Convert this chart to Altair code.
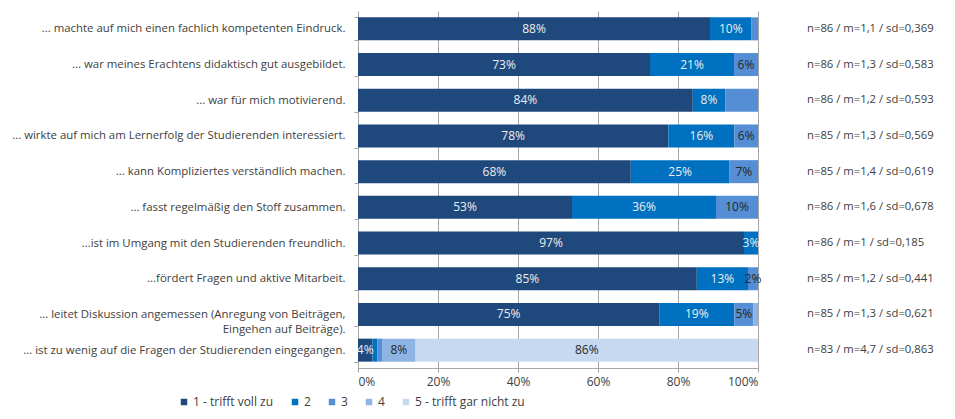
import altair as alt
import pandas as pd

statements = [
    "... machte auf mich einen fachlich kompetenten Eindruck.",
    "... war meines Erachtens didaktisch gut ausgebildet.",
    "... war für mich motivierend.",
    "... wirkte auf mich am Lernerfolg der Studierenden interessiert.",
    "... kann Kompliziertes verständlich machen.",
    "... fasst regelmäßig den Stoff zusammen.",
    "...ist im Umgang mit den Studierenden freundlich.",
    "...fördert Fragen und aktive Mitarbeit.",
    "... leitet Diskussion angemessen (Anregung von Beiträgen,\nEingehen auf Beiträge).",
    "... ist zu wenig auf die Fragen der Studierenden eingegangen.",
]
levels = ["1 - trifft voll zu", "2", "3", "4", "5 - trifft gar nicht zu"]
colors = ["#1f497d", "#0070c0", "#558ed5", "#8eb4e3", "#c6d9f1"]

share_1 = [88.0, 73.0, 83.7, 77.6, 68.2, 53.5, 96.5, 84.7, 75.3, 3.6]
share_2 = [10.4, 21.0, 8.1, 16.5, 24.7, 36.0, 3.5, 12.8, 18.8, 1.2]
share_3 = [1.6, 6.0, 8.2, 5.9, 7.1, 10.5, 0.0, 2.5, 4.7, 1.2]
share_4 = [0.0, 0.0, 0.0, 0.0, 0.0, 0.0, 0.0, 0.0, 1.2, 8.4]
share_5 = [0.0, 0.0, 0.0, 0.0, 0.0, 0.0, 0.0, 0.0, 0.0, 85.6]

label_1 = ["88%", "73%", "84%", "78%", "68%", "53%", "97%", "85%", "75%", "4%"]
label_2 = ["10%", "21%", "8%", "16%", "25%", "36%", "3%", "13%", "19%", ""]
label_3 = ["", "6%", "", "6%", "7%", "10%", "", "2%", "5%", ""]
label_4 = ["", "", "", "", "", "", "", "", "", "8%"]
label_5 = ["", "", "", "", "", "", "", "", "", "86%"]

stats = [
    "n=86 / m=1,1 / sd=0,369",
    "n=86 / m=1,3 / sd=0,583",
    "n=86 / m=1,2 / sd=0,593",
    "n=85 / m=1,3 / sd=0,569",
    "n=85 / m=1,4 / sd=0,619",
    "n=86 / m=1,6 / sd=0,678",
    "n=86 / m=1 / sd=0,185",
    "n=85 / m=1,2 / sd=0,441",
    "n=85 / m=1,3 / sd=0,621",
    "n=83 / m=4,7 / sd=0,863",
]

shares = [share_1, share_2, share_3, share_4, share_5]
labels = [label_1, label_2, label_3, label_4, label_5]

rows = []
for i, s in enumerate(statements):
    for j in range(5):
        rows.append({"statement": s, "level": levels[j], "k": j + 1,
                     "share": shares[j][i], "label": labels[j][i]})
df = pd.DataFrame(rows)
df_stats = pd.DataFrame({"statement": statements, "stat": stats})

FONT = "Open Sans"
GRAY = "#a6a6a6"
TXT = "#404040"

y_enc = alt.Y(
    "statement:N", sort=statements, title=None,
    scale=alt.Scale(paddingInner=0.35, paddingOuter=0.175),
    axis=alt.Axis(
        labelExpr="split(datum.label, '\\n')",
        labelFont=FONT, labelFontSize=11.4, labelColor=TXT, labelLimit=400,
        labelLineHeight=15,
        labelPadding=9, tickSize=4, tickColor=GRAY, tickBand="extent",
        domainColor=GRAY, grid=False,
    ),
)

bars = alt.Chart(df).mark_bar(size=23).encode(
    x=alt.X(
        "share:Q", stack="zero", title=None,
        scale=alt.Scale(domain=[0, 100], nice=False),
        axis=alt.Axis(
            values=[0, 20, 40, 60, 80, 100], labelExpr="datum.value + '%'",
            labelFont=FONT, labelFontSize=12, labelColor=TXT, labelPadding=4,
            grid=True, gridColor=GRAY, domainColor=GRAY, tickColor=GRAY, tickSize=4,
        ),
    ),
    y=y_enc,
    color=alt.Color(
        "level:N", scale=alt.Scale(domain=levels, range=colors),
        legend=alt.Legend(
            title=None, orient="none", direction="horizontal", legendX=-180, legendY=385,
            symbolType="square", symbolSize=42, symbolStrokeWidth=0,
            labelFont=FONT, labelFontSize=12, labelColor=TXT, labelOffset=3,
            columnPadding=15,
        ),
    ),
    order=alt.Order("k:Q"),
)

texts = alt.Chart(df).transform_stack(
    stack="share", groupby=["statement"], as_=["x0", "x1"],
    sort=[alt.SortField("k", order="ascending")],
).transform_calculate(mid="(datum.x0 + datum.x1) / 2").mark_text(
    font=FONT, fontSize=12,
).encode(
    x=alt.X("mid:Q"),
    y=alt.Y("statement:N", sort=statements),
    text="label:N",
    color=alt.condition("datum.k <= 2", alt.value("#eeeeee"), alt.value("#262626")),
)

stat_text = alt.Chart(df_stats).mark_text(
    align="left", font=FONT, fontSize=11.3, color=TXT,
).encode(
    x=alt.value(449),
    y=alt.Y("statement:N", sort=statements),
    text="stat:N",
)

chart = alt.layer(bars, texts, stat_text).properties(
    width=400, height=357,
    autosize=alt.AutoSizeParams(type="none"),
    padding={"left": 350, "top": 3, "right": 181, "bottom": 43},
).configure_view(stroke=None)

chart.save("out.html", embed_options={"renderer": "svg", "actions": False})
